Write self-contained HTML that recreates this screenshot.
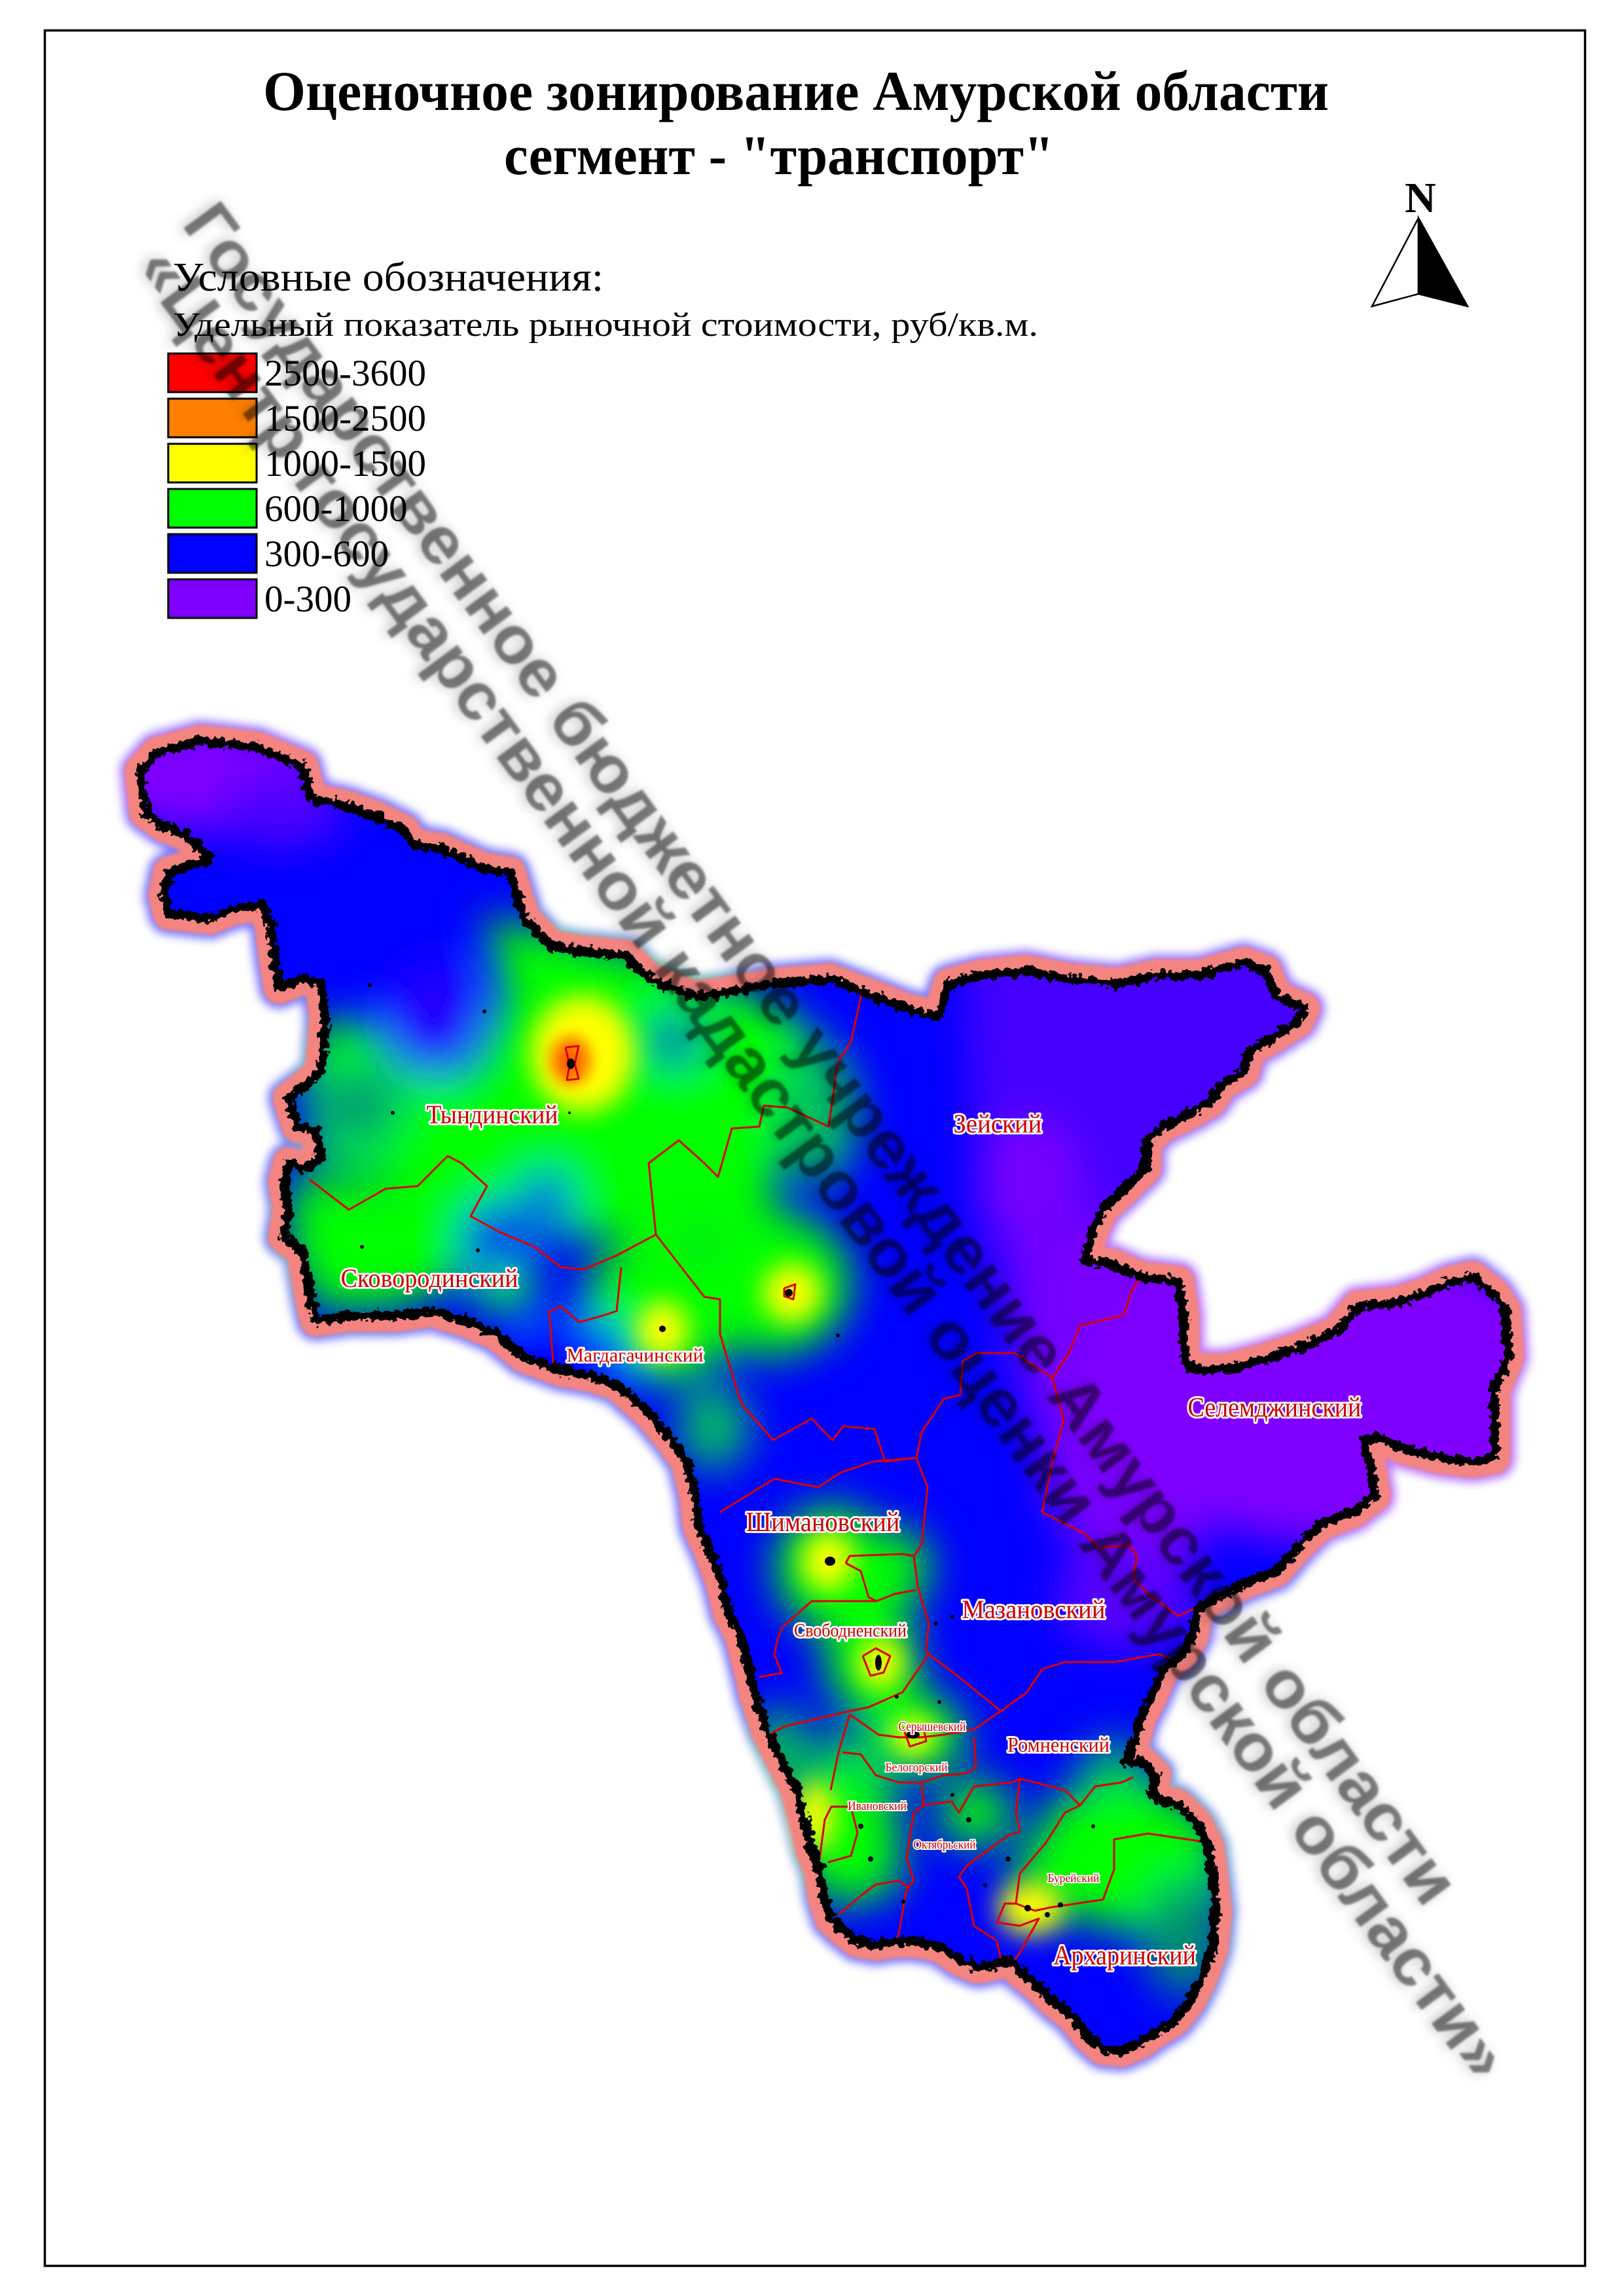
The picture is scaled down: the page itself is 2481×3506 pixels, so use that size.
<!DOCTYPE html>
<html><head><meta charset="utf-8"><style>html,body{margin:0;padding:0;background:#fff}svg{display:block}</style></head>
<body>
<svg xmlns="http://www.w3.org/2000/svg" width="2481" height="3506" viewBox="0 0 2481 3506">
<defs>
<path id="outline" d="M215,1178 L240,1150 307,1132 392,1142 462,1171 476,1220 530,1232 575,1248 617,1269 631,1290 674,1297 737,1326 779,1333 801,1403 843,1446 885,1453 956,1460 991,1495 1062,1523 1111,1516 1183,1503 1267,1496 1317,1515 1383,1541 1433,1554 1450,1503 1500,1490 1567,1483 1633,1496 1708,1503 1767,1490 1833,1490 1900,1471 1933,1483 1950,1522 1992,1541 1983,1560 1942,1586 1908,1605 1900,1637 1867,1656 1850,1682 1817,1701 1775,1721 1750,1746 1750,1785 1717,1817 1683,1849 1667,1887 1658,1926 1700,1932 1742,1951 1800,1958 1808,2009 1808,2073 1825,2092 1875,2092 1925,2079 1983,2060 2042,2035 2075,1996 2133,1990 2175,1977 2217,1958 2250,1951 2283,1977 2300,2003 2304,2073 2283,2124 2283,2182 2283,2227 2250,2233 2200,2227 2150,2214 2100,2195 2083,2201 2092,2233 2100,2285 2067,2310 2017,2329 1983,2362 1950,2400 1904,2417 1858,2440 1829,2458 1823,2498 1806,2527 1777,2550 1760,2590 1742,2625 1731,2665 1719,2694 1742,2689 1765,2712 1760,2746 1800,2758 1829,2787 1846,2821 1852,2867 1858,2919 1852,2977 1835,3023 1817,3058 1794,3087 1765,3104 1742,3121 1714,3133 1685,3130 1662,3110 1639,3081 1610,3058 1587,3035 1558,3012 1546,2994 1523,3000 1494,3006 1465,2994 1442,2977 1425,2971 1396,2966 1367,2966 1339,2971 1310,2966 1287,2948 1269,2931 1258,2896 1252,2856 1240,2827 1229,2781 1217,2735 1194,2689 1171,2642 1154,2590 1142,2539 1131,2498 1113,2463 1102,2417 1085,2371 1067,2331 1062,2285 1049,2233 1026,2200 991,2158 942,2115 899,2101 857,2094 801,2073 758,2038 709,2017 660,2003 603,2010 533,2010 483,2017 476,1989 462,1911 434,1890 441,1848 434,1805 441,1777 469,1784 490,1770 483,1728 455,1721 441,1678 469,1657 490,1636 497,1558 490,1502 462,1495 427,1509 420,1467 413,1410 399,1382 356,1389 321,1403 258,1396 251,1368 258,1333 321,1312 286,1276 251,1262 222,1241 Z"/>
<filter id="mblur" filterUnits="userSpaceOnUse" x="0" y="900" width="2481" height="2500"><feGaussianBlur stdDeviation="7"/></filter>
<mask id="heatmask" maskUnits="userSpaceOnUse" x="0" y="900" width="2481" height="2500">
  <g filter="url(#mblur)"><use href="#outline" fill="#888" stroke="#888" stroke-width="64" stroke-linejoin="round"/></g>
  <use href="#outline" fill="#fff"/>
</mask>
<mask id="outside" maskUnits="userSpaceOnUse" x="0" y="900" width="2481" height="2500">
  <rect x="0" y="900" width="2481" height="2500" fill="#fff"/>
  <use href="#outline" fill="#000"/>
</mask>
<filter id="blurG" filterUnits="userSpaceOnUse" x="0" y="900" width="2481" height="2500"><feGaussianBlur stdDeviation="32"/></filter>
<filter id="blurY" filterUnits="userSpaceOnUse" x="0" y="900" width="2481" height="2500"><feGaussianBlur stdDeviation="20"/></filter>
<filter id="blurO" filterUnits="userSpaceOnUse" x="0" y="900" width="2481" height="2500"><feGaussianBlur stdDeviation="10"/></filter>
<filter id="pinkb" filterUnits="userSpaceOnUse" x="0" y="900" width="2481" height="2500"><feGaussianBlur stdDeviation="2.5"/></filter>
<filter id="rough" filterUnits="userSpaceOnUse" x="0" y="900" width="2481" height="2500"><feTurbulence type="fractalNoise" baseFrequency="0.11" numOctaves="2" seed="4" result="t"/><feDisplacementMap in="SourceGraphic" in2="t" scale="18" xChannelSelector="R" yChannelSelector="G"/></filter>
<filter id="wm" x="-5%" y="-60%" width="110%" height="220%"><feGaussianBlur in="SourceAlpha" stdDeviation="9" result="b"/><feOffset in="b" dx="-4" dy="4" result="bo"/><feComponentTransfer in="bo" result="b2"><feFuncA type="linear" slope="0.5"/></feComponentTransfer><feGaussianBlur in="SourceGraphic" stdDeviation="1.5" result="s"/><feMerge><feMergeNode in="b2"/><feMergeNode in="s"/></feMerge></filter>
</defs>

<!-- frame -->
<rect x="68.5" y="46.5" width="2353" height="3415" fill="none" stroke="#000" stroke-width="3.5"/>

<!-- title -->
<g font-family="'Liberation Serif', serif" font-weight="bold" fill="#000" text-anchor="middle">
<text x="1216" y="168" font-size="86" textLength="1628" lengthAdjust="spacingAndGlyphs">Оценочное зонирование Амурской области</text>
<text x="1190" y="266" font-size="86" textLength="840" lengthAdjust="spacingAndGlyphs">сегмент - "транспорт"</text>
<text x="2170" y="324" font-size="66">N</text>
</g>
<polygon points="2167,333 2096,468 2167,449" fill="#fff" stroke="#000" stroke-width="2.5"/>
<polygon points="2167,333 2242,468 2167,449" fill="#000" stroke="#000" stroke-width="2.5"/>

<!-- legend -->
<g font-family="'Liberation Serif', serif" fill="#000">
<text x="264" y="444" font-size="62" textLength="658" lengthAdjust="spacingAndGlyphs">Условные обозначения:</text>
<text x="264" y="513" font-size="52" textLength="1322" lengthAdjust="spacingAndGlyphs">Удельный показатель рыночной стоимости, руб/кв.м.</text>
</g>
<g stroke="#000" stroke-width="3">
<rect x="257" y="540" width="135" height="59" fill="#ff0000"/>
<rect x="257" y="609" width="135" height="59" fill="#ff8000"/>
<rect x="257" y="678" width="135" height="59" fill="#ffff00"/>
<rect x="257" y="747" width="135" height="59" fill="#00ff00"/>
<rect x="257" y="816" width="135" height="59" fill="#0000ff"/>
<rect x="257" y="885" width="135" height="59" fill="#8000ff"/>
</g>
<g font-family="'Liberation Serif', serif" font-size="57" fill="#000">
<text x="404" y="589">2500-3600</text>
<text x="404" y="658">1500-2500</text>
<text x="404" y="727">1000-1500</text>
<text x="404" y="796">600-1000</text>
<text x="404" y="865">300-600</text>
<text x="404" y="934">0-300</text>
</g>

<!-- heat map -->
<g mask="url(#heatmask)">
<rect x="120" y="1000" width="2300" height="2250" fill="#0000ff"/>
<g filter="url(#blurG)">
  <ellipse cx="320" cy="1185" rx="170" ry="85" fill="#8000ff"/>
  <ellipse cx="430" cy="1235" rx="100" ry="60" fill="#5000ff"/>
  <polygon points="1470,1420 2080,1420 2080,1990 1800,2080 1700,2300 1560,2150 1490,1850" fill="#4400ff"/>
  <ellipse cx="1575" cy="1800" rx="70" ry="90" fill="#7800ff"/>
  <polygon points="1560,1900 1700,1850 1830,1980 1840,2360 1720,2460 1600,2300" fill="#7800ff"/>
  <ellipse cx="2050" cy="2130" rx="380" ry="230" fill="#8000ff"/>
  <ellipse cx="1720" cy="2440" rx="110" ry="80" fill="#5800ff"/>
  <polygon points="740,1400 1000,1460 1150,1520 1240,1570 1210,1700 1170,1880 1000,1900 800,1880 600,1800 480,1780 460,1650 490,1560 560,1560 620,1640 720,1640 770,1520" fill="#00ff00"/>
  <ellipse cx="1250" cy="1700" rx="60" ry="110" fill="#00c060"/>
  <ellipse cx="545" cy="1690" rx="70" ry="60" fill="#00a070"/>
  <polygon points="440,1800 700,1810 740,1860 700,1960 600,2000 480,2000 440,1900" fill="#00ff00"/>
  <ellipse cx="770" cy="1960" rx="50" ry="45" fill="#00ff00"/>
  <ellipse cx="1010" cy="2000" rx="120" ry="110" fill="#00ff00"/>
  <ellipse cx="1180" cy="1960" rx="120" ry="110" fill="#00ff00"/>
  <ellipse cx="1090" cy="2180" rx="55" ry="65" fill="#00c060"/>
  <ellipse cx="1270" cy="2395" rx="85" ry="95" fill="#00ff00"/>
  <ellipse cx="1370" cy="2395" rx="50" ry="60" fill="#00ff00"/>
  <ellipse cx="1330" cy="2530" rx="70" ry="90" fill="#00ff00"/>
  <ellipse cx="1370" cy="2600" rx="50" ry="40" fill="#00ff00"/>
  <ellipse cx="1400" cy="2650" rx="75" ry="60" fill="#00ff00"/>
  <ellipse cx="1300" cy="2690" rx="60" ry="50" fill="#00b060"/>
  <ellipse cx="1190" cy="2680" rx="45" ry="75" fill="#00c050"/>
  <ellipse cx="1295" cy="2800" rx="80" ry="110" fill="#00ff00"/>
  <ellipse cx="1490" cy="2770" rx="55" ry="50" fill="#00ff00"/>
  <ellipse cx="1320" cy="2860" rx="60" ry="40" fill="#00ff00"/>
  <ellipse cx="1700" cy="2700" rx="50" ry="40" fill="#00c060"/>
  <polygon points="1620,2740 1760,2720 1860,2790 1870,2900 1760,2960 1650,2930 1560,2920 1550,2850" fill="#00ff00"/>
  <ellipse cx="1810" cy="2960" rx="60" ry="90" fill="#009070"/>
  <ellipse cx="660" cy="1555" rx="70" ry="90" fill="#2000ff"/>
  <ellipse cx="1030" cy="1590" rx="40" ry="40" fill="#0030c0"/>
  <ellipse cx="835" cy="1830" rx="40" ry="40" fill="#0010f0"/>
  <ellipse cx="755" cy="1890" rx="50" ry="55" fill="#0010f0"/>
  <ellipse cx="880" cy="2070" rx="90" ry="55" fill="#0000ff"/>
</g>
<g filter="url(#blurY)">
  <ellipse cx="890" cy="1610" rx="80" ry="90" fill="#ffff00"/>
  <ellipse cx="1012" cy="2032" rx="40" ry="45" fill="#ffff00"/>
  <ellipse cx="1210" cy="1975" rx="45" ry="45" fill="#ffff00"/>
  <ellipse cx="1265" cy="2385" rx="40" ry="45" fill="#ffff00"/>
  <ellipse cx="1345" cy="2540" rx="35" ry="40" fill="#ffff00"/>
  <ellipse cx="1395" cy="2652" rx="35" ry="30" fill="#ffff00"/>
  <ellipse cx="1245" cy="2775" rx="30" ry="55" fill="#ffff00"/>
  <ellipse cx="1575" cy="2915" rx="50" ry="40" fill="#ffff00"/>
</g>
<g filter="url(#blurO)">
  <ellipse cx="872" cy="1620" rx="32" ry="38" fill="#ff8000"/>
  <ellipse cx="870" cy="1622" rx="12" ry="14" fill="#ff2000"/>
</g>
</g>

<!-- pink glow (outside only) -->
<g mask="url(#outside)">
<use href="#outline" fill="none" stroke="#f48480" stroke-width="50" stroke-linejoin="round" filter="url(#pinkb)"/>
</g>

<!-- district boundaries -->
<g fill="none" stroke="#dc0000" stroke-width="3" stroke-linejoin="round">
<polyline points="473,1802 533,1848 589,1816 638,1812 684,1766 705,1777 744,1812 719,1858 765,1883 815,1904 857,1936 892,1939 942,1918 1002,1886"/>
<polyline points="1002,1886 991,1777 1037,1742 1076,1777 1097,1798 1118,1724 1160,1721 1167,1689 1203,1692 1266,1721 1280,1622 1300,1592 1317,1515"/>
<polyline points="1002,1886 1076,1981 1100,1985 1100,2038 1132,2144 1181,2200 1240,2167 1272,2200 1288,2179 1336,2183 1352,2233 1400,2227"/>
<polyline points="949,1936 942,2003 920,2010 885,2020 857,1996 839,2003 846,2095"/>
<polyline points="1742,1951 1729,1971 1717,2009 1650,2025 1633,2067 1608,2105 1625,2169 1608,2233 1592,2310 1656,2342 1679,2365 1725,2360 1737,2377 1731,2412 1754,2435 1800,2469 1823,2458"/>
<polyline points="1608,2105 1550,2067 1492,2067 1471,2079 1467,2131 1442,2137 1408,2188 1400,2227 1417,2272 1408,2360 1396,2377 1402,2423 1419,2481 1414,2521 1419,2527"/>
<polyline points="1100,2310 1183,2259 1250,2272 1283,2250 1333,2233 1400,2227"/>
<polyline points="1292,2388 1298,2377 1379,2374 1396,2377"/>
<polyline points="1292,2388 1315,2400 1327,2440 1339,2446"/>
<polyline points="1160,2562 1194,2556 1183,2527 1188,2504 1194,2487 1240,2446 1339,2446 1367,2435 1399,2429"/>
<polyline points="1178,2648 1200,2637 1298,2614 1327,2608 1379,2585 1419,2527"/>
<polyline points="1419,2527 1465,2562 1529,2614"/>
<polyline points="1529,2614 1569,2585 1592,2550 1627,2539 1702,2539 1771,2527 1800,2539"/>
<polyline points="1298,2619 1342,2650 1373,2654 1408,2654 1442,2650 1488,2642 1529,2614"/>
<polyline points="1287,2677 1315,2680 1338,2712 1373,2723 1408,2723 1442,2712 1477,2709 1491,2700 1488,2654"/>
<polyline points="1269,2735 1281,2677 1298,2619"/>
<polyline points="1408,2723 1411,2758 1396,2769 1385,2839 1396,2873 1385,2885 1373,2954 1367,2966"/>
<polyline points="1408,2758 1454,2752 1465,2769 1488,2729 1546,2723 1558,2717 1627,2735 1650,2758 1673,2729 1713,2723 1731,2715"/>
<polyline points="1558,2717 1552,2769 1558,2798 1540,2804 1500,2833 1477,2850 1465,2867 1477,2885 1488,2942 1523,2965 1529,2994"/>
<polyline points="1650,2758 1627,2769 1598,2815 1558,2862 1552,2908 1581,2919 1604,2914 1685,2902 1702,2856 1702,2810 1754,2801 1835,2813"/>
<polyline points="1552,2908 1535,2908 1523,2937 1558,2942 1587,2931 1558,2983 1546,3000"/>
<polyline points="1281,2925 1315,2896 1338,2879 1373,2873 1390,2885"/>
<polyline points="1252,2840 1260,2780 1270,2760 1300,2760 1310,2800 1300,2835 1265,2845"/>
<polyline points="864,1600 884,1598 878,1625 884,1648 866,1650 870,1628 864,1600"/>
<polyline points="1198,1968 1215,1962 1212,1985 1198,1980 1198,1968"/>
<polyline points="1318,2530 1338,2518 1360,2530 1350,2555 1330,2560 1318,2530"/>
<polyline points="1380,2640 1410,2635 1415,2660 1390,2668 1380,2640"/>
</g>

<!-- settlements -->
<g fill="#000">
<ellipse cx="872" cy="1625" rx="6" ry="8"/><ellipse cx="1205" cy="1975" rx="6" ry="6"/>
<circle cx="1012" cy="2030" r="5"/><ellipse cx="1268" cy="2385" rx="8" ry="7"/>
<ellipse cx="1342" cy="2540" rx="5" ry="12"/><ellipse cx="1395" cy="2650" rx="10" ry="6"/>
<circle cx="1570" cy="2915" r="5"/><circle cx="1600" cy="2925" r="4"/><circle cx="1620" cy="2910" r="4"/>
<circle cx="1315" cy="2790" r="4"/><circle cx="1330" cy="2840" r="4"/><circle cx="1380" cy="2905" r="3"/>
<circle cx="1480" cy="2780" r="4"/><circle cx="1540" cy="2840" r="4"/><circle cx="1455" cy="2742" r="3"/>
<circle cx="1435" cy="2600" r="3"/><circle cx="1370" cy="2592" r="3"/><circle cx="1455" cy="2470" r="3"/>
<circle cx="1430" cy="2480" r="3"/><circle cx="1670" cy="2790" r="3"/><circle cx="1242" cy="2800" r="4"/>
<circle cx="600" cy="1700" r="3"/><circle cx="565" cy="1505" r="3"/><circle cx="740" cy="1545" r="3"/>
<circle cx="870" cy="1700" r="2"/><circle cx="553" cy="1905" r="3"/><circle cx="730" cy="1910" r="3"/>
<circle cx="1280" cy="2040" r="3"/><circle cx="1640" cy="2870" r="3"/><circle cx="1505" cy="2880" r="3"/>
</g>

<!-- black border -->
<use href="#outline" fill="none" stroke="#000" stroke-width="14" stroke-linejoin="round" filter="url(#rough)"/>

<!-- district labels -->
<g font-family="'Liberation Serif', serif" fill="#cc0000" stroke="#fff" stroke-width="6" paint-order="stroke" stroke-linejoin="round" text-anchor="middle">
<text x="752" y="1716" font-size="40" textLength="201" lengthAdjust="spacingAndGlyphs">Тындинский</text>
<text x="1524" y="1730" font-size="40" textLength="135" lengthAdjust="spacingAndGlyphs">Зейский</text>
<text x="656" y="1966" font-size="40" textLength="271" lengthAdjust="spacingAndGlyphs">Сковородинский</text>
<text x="970" y="2080" font-size="30" textLength="209" lengthAdjust="spacingAndGlyphs">Магдагачинский</text>
<text x="1947" y="2164" font-size="42" textLength="265" lengthAdjust="spacingAndGlyphs">Селемджинский</text>
<text x="1257" y="2339" font-size="42" textLength="235" lengthAdjust="spacingAndGlyphs">Шимановский</text>
<text x="1579" y="2472" font-size="40" textLength="219" lengthAdjust="spacingAndGlyphs">Мазановский</text>
<text x="1299" y="2500" font-size="28" textLength="172" lengthAdjust="spacingAndGlyphs">Свободненский</text>
<text x="1424" y="2644" font-size="20" stroke-width="4" textLength="103" lengthAdjust="spacingAndGlyphs">Серышевский</text>
<text x="1617" y="2676" font-size="32" textLength="156" lengthAdjust="spacingAndGlyphs">Ромненский</text>
<text x="1400" y="2706" font-size="19" stroke-width="4" textLength="95" lengthAdjust="spacingAndGlyphs">Белогорский</text>
<text x="1340" y="2765" font-size="19" stroke-width="4" textLength="90" lengthAdjust="spacingAndGlyphs">Ивановский</text>
<text x="1443" y="2824" font-size="19" stroke-width="4" textLength="95" lengthAdjust="spacingAndGlyphs">Октябрьский</text>
<text x="1640" y="2875" font-size="18" stroke-width="4" textLength="79" lengthAdjust="spacingAndGlyphs">Бурейский</text>
<text x="1718" y="3001" font-size="42" textLength="218" lengthAdjust="spacingAndGlyphs">Архаринский</text>
</g>

<!-- watermark -->
<g font-family="'Liberation Sans', sans-serif" font-weight="bold" font-size="102" fill="#000" fill-opacity="0.48" text-anchor="middle">
<g transform="translate(1227,1630) rotate(53.55)"><text x="0" y="0" textLength="3200" lengthAdjust="spacingAndGlyphs" filter="url(#wm)">Государственное бюджетное учреждение Амурской области</text></g>
<g transform="translate(1231,1797) rotate(53.55)"><text x="0" y="0" textLength="3450" lengthAdjust="spacingAndGlyphs" filter="url(#wm)">«Центр государственной кадастровой оценки Амурской области»</text></g>
</g>
</svg>
</body></html>
